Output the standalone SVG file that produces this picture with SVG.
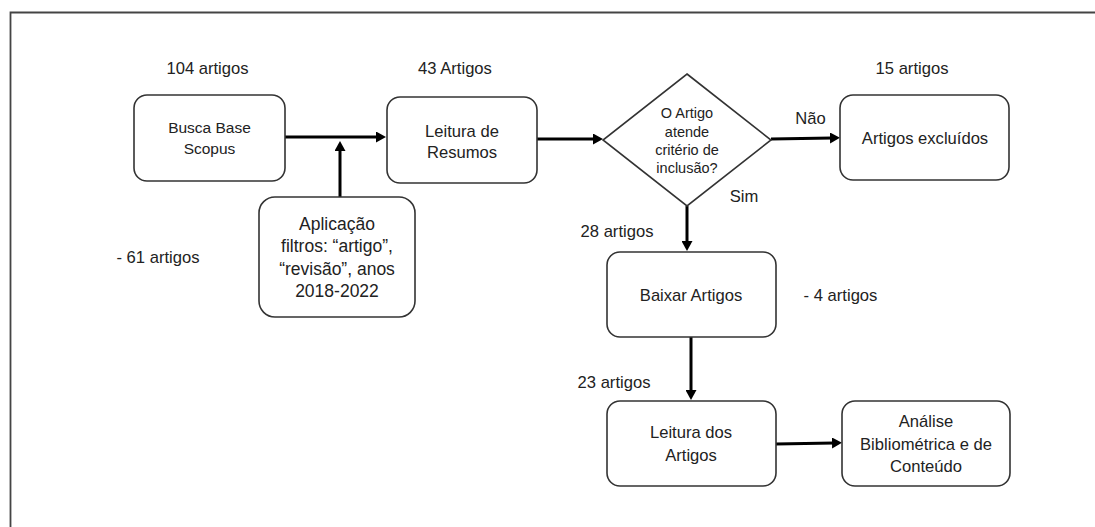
<svg xmlns="http://www.w3.org/2000/svg" width="1095" height="527" viewBox="0 0 1095 527">
<style>
.box{fill:#fff;stroke:#333;stroke-width:1.6}
.t{font-family:"Liberation Sans",Arial,sans-serif;font-size:16.6px;fill:#222;text-anchor:middle}
.s{font-size:14.5px}
.b{font-size:15.5px}
.a{font-size:17.5px}
.conn{stroke:#000;stroke-width:3;fill:none;marker-end:url(#ah)}
</style>
<defs>
<marker id="ah" markerUnits="userSpaceOnUse" markerWidth="11" markerHeight="11" refX="2" refY="5.5" orient="auto">
<path d="M0,0 L10,5.5 L0,11 z" fill="#000"/>
</marker>
</defs>
<rect width="1095" height="527" fill="#fff"/>
<g id="frame" stroke="#444" stroke-width="1.8" fill="none">
<path d="M10.5,527 V12.5 H1095"/>
</g>
<g id="connectors">
<line class="conn" x1="285" y1="137" x2="378" y2="137"/>
<line class="conn" x1="340" y1="197" x2="340" y2="149"/>
<line class="conn" x1="537" y1="139" x2="595" y2="139"/>
<line class="conn" x1="771" y1="139" x2="832" y2="138"/>
<line class="conn" x1="687" y1="206" x2="687" y2="243"/>
<line class="conn" x1="691" y1="337" x2="691" y2="392"/>
<line class="conn" x1="776" y1="444" x2="834" y2="443"/>
</g>
<g id="busca">
<rect class="box" x="134" y="95" width="151" height="86" rx="13"/>
<text class="t b" x="209.5" y="133">Busca Base</text>
<text class="t b" x="209.5" y="154">Scopus</text>
</g>
<g id="aplicacao">
<rect class="box" x="259" y="197" width="156" height="120" rx="16"/>
<text class="t a" x="337" y="230">Aplicação</text>
<text class="t a" x="337" y="252">filtros: “artigo”,</text>
<text class="t a" x="337" y="275">“revisão”, anos</text>
<text class="t a" x="337" y="297">2018-2022</text>
</g>
<g id="leitura-resumos">
<rect class="box" x="387" y="97" width="150" height="86" rx="13"/>
<text class="t" x="462" y="137">Leitura de</text>
<text class="t" x="462" y="158">Resumos</text>
</g>
<g id="decisao">
<polygon class="box" points="687,74 771,140 687,206 603,140"/>
<text class="t s" x="687" y="118">O Artigo</text>
<text class="t s" x="687" y="137">atende</text>
<text class="t s" x="687" y="155">critério de</text>
<text class="t s" x="687" y="173">inclusão?</text>
</g>
<g id="excluidos">
<rect class="box" x="840" y="95" width="169" height="85" rx="13"/>
<text class="t" x="925" y="144">Artigos excluídos</text>
</g>
<g id="baixar">
<rect class="box" x="607" y="252" width="169" height="85" rx="13"/>
<text class="t" x="691" y="301">Baixar Artigos</text>
</g>
<g id="leitura-artigos">
<rect class="box" x="607" y="401" width="169" height="85" rx="13"/>
<text class="t" x="691" y="438">Leitura dos</text>
<text class="t" x="691" y="461">Artigos</text>
</g>
<g id="analise">
<rect class="box" x="842" y="401" width="168" height="85" rx="13"/>
<text class="t" x="926" y="427">Análise</text>
<text class="t" x="926" y="450">Bibliométrica e de</text>
<text class="t" x="926" y="472">Conteúdo</text>
</g>
<g id="labels">
<text class="t" x="207.5" y="74">104 artigos</text>
<text class="t" x="455" y="74">43 Artigos</text>
<text class="t" x="912" y="74">15 artigos</text>
<text class="t" x="810.5" y="124">Não</text>
<text class="t" x="744" y="202">Sim</text>
<text class="t" x="617" y="237">28 artigos</text>
<text class="t" x="158" y="263">- 61 artigos</text>
<text class="t" x="840.5" y="301">- 4 artigos</text>
<text class="t" x="614" y="388">23 artigos</text>
</g>
</svg>
